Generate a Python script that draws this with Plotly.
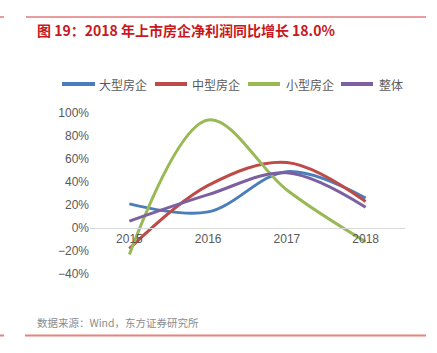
import plotly.graph_objects as go

years = ["2015", "2016", "2017", "2018"]
large = [21, 14, 49, 26]
medium = [-18, 37, 57, 23]
small = [-23, 94, 33, -12]
overall = [6, 29, 48, 18]

series = [
    ("大型房企", large, "#4A7EBB"),
    ("中型房企", medium, "#BE4B48"),
    ("小型房企", small, "#98B954"),
    ("整体", overall, "#7D60A0"),
]

W, H = 437, 353
l, r, t, b = 90, 32, 113, 79
ymin, ymax = -40, 100
zero_frac = (0 - ymin) / (ymax - ymin)
plot_w = W - l - r
plot_h = H - t - b


def px_x(xp):
    return (xp - l) / plot_w


def px_y(yp):
    return (H - yp - b) / plot_h


fig = go.Figure()
for name, vals, col in series:
    fig.add_trace(go.Scatter(x=years, y=vals, name=name, mode="lines", showlegend=False,
                             line=dict(color=col, width=3, shape="spline", smoothing=1.0)))

fig.update_layout(
    width=W, height=H,
    margin=dict(l=l, r=r, t=t, b=b),
    paper_bgcolor="white", plot_bgcolor="white",
    font=dict(family="Liberation Sans, Arial, Noto Sans CJK SC", color="#595959", size=12),
    showlegend=False,
    xaxis=dict(type="category", range=[-0.5, 3.5], showgrid=False,
               showline=True, linecolor="#D9D9D9", linewidth=1,
               anchor="free", position=zero_frac, ticks="", zeroline=False,
               tickfont=dict(size=12, color="#595959")),
    yaxis=dict(range=[ymin, ymax], dtick=20, ticksuffix="%", showgrid=False,
               zeroline=False, showline=False, ticks="",
               tickfont=dict(size=12, color="#595959")),
)

# Manual legend
leg_pos = [(62, 95, 97), (155, 187, 190), (248, 280, 284), (341, 373, 377)]
for (name, vals, col), (x0, x1, xt) in zip(series, leg_pos):
    fig.add_shape(type="line", xref="paper", yref="paper", x0=px_x(x0), x1=px_x(x1),
                  y0=px_y(84), y1=px_y(84), line=dict(color=col, width=4))
    fig.add_annotation(text=name, xref="paper", yref="paper", x=px_x(xt), y=px_y(84),
                       xanchor="left", yanchor="middle", showarrow=False,
                       font=dict(family="Noto Sans CJK SC", size=12, color="#595959"))

# Title
fig.add_annotation(text="<b>图 19：2018 年上市房企净利润同比增长 18.0%</b>",
                   xref="paper", yref="paper", x=px_x(35), y=px_y(30),
                   xanchor="left", yanchor="middle", showarrow=False,
                   font=dict(family="Noto Sans CJK SC", size=14, color="#C8171E"))
# Source
fig.add_annotation(text="数据来源：Wind，东方证券研究所",
                   xref="paper", yref="paper", x=px_x(35), y=px_y(322),
                   xanchor="left", yanchor="middle", showarrow=False,
                   font=dict(family="Noto Sans CJK SC", size=10.5, color="#8C8C8C"))

fig.add_shape(type="line", xref="paper", yref="paper", x0=px_x(26), x1=px_x(426),
              y0=px_y(17), y1=px_y(17), line=dict(color="#D4373C", width=1))
fig.add_shape(type="line", xref="paper", yref="paper", x0=px_x(0), x1=px_x(4),
              y0=px_y(17), y1=px_y(17), line=dict(color="#D4373C", width=1))
fig.add_shape(type="line", xref="paper", yref="paper", x0=px_x(25), x1=px_x(426),
              y0=px_y(335.5), y1=px_y(335.5), line=dict(color="#E8817F", width=2))
fig.add_shape(type="line", xref="paper", yref="paper", x0=px_x(0), x1=px_x(4),
              y0=px_y(335.5), y1=px_y(335.5), line=dict(color="#E8817F", width=2))

fig.write_html("out.html")
